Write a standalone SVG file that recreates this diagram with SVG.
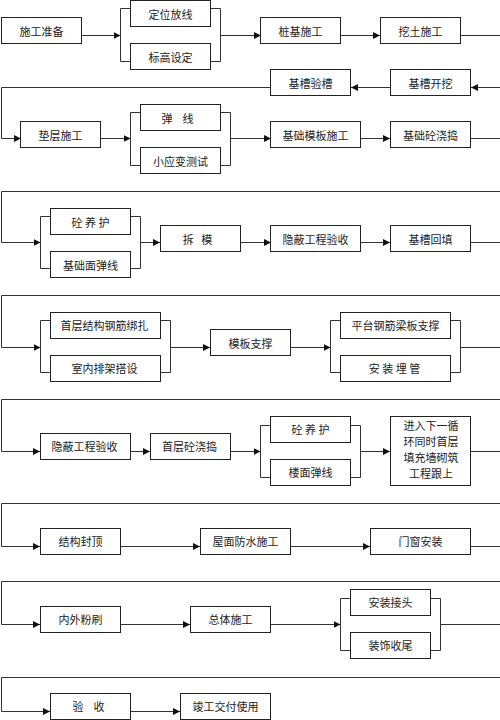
<svg xmlns="http://www.w3.org/2000/svg" width="500" height="720" viewBox="0 0 500 720">
<style>
.n rect{fill:#fff;stroke:#222;stroke-width:1}
.n text{font-family:"Noto Sans CJK SC","Liberation Sans",sans-serif;font-size:11px;fill:#222;text-anchor:middle;dominant-baseline:central}
.n .m{font-size:11.5px}
.c path{fill:none;stroke:#333;stroke-width:1}
.c .a{marker-end:url(#ah)}
</style>
<defs>
<marker id="ah" markerUnits="userSpaceOnUse" markerWidth="7" markerHeight="7" refX="7" refY="3.5" orient="auto">
<path d="M0,0 L7,3.5 L0,7 z" fill="#111"/>
</marker>
</defs>
<rect width="500" height="720" fill="#fff"/>
<g class="c" id="connectors">
<path class="a" d="M81,35.5 H120.5"/>
<path d="M130,8.5 H120.5 V61.5 H130"/>
<path d="M211,8.5 H220.5 V61.5 H211"/>
<path class="a" d="M220.5,35.5 H261"/>
<path class="a" d="M341,35.5 H380"/>
<path d="M461,35.5 H500"/>
<path class="a" d="M500,87.5 H471"/>
<path class="a" d="M390,87.5 H351"/>
<path class="a" d="M271,87.5 H1.5 V138.5 H21"/>
<path class="a" d="M101,138.5 H130.5"/>
<path d="M140,112.5 H130.5 V165.5 H140"/>
<path d="M220,112.5 H230.5 V165.5 H220"/>
<path class="a" d="M230.5,138.5 H271"/>
<path class="a" d="M361,138.5 H390"/>
<path d="M471,138.5 H500"/>
<path class="a" d="M500,191.5 H1.5 V242.5 H40.5"/>
<path d="M50,216.5 H40.5 V268.5 H50"/>
<path d="M130,216.5 H140.5 V268.5 H130"/>
<path class="a" d="M140.5,242.5 H160"/>
<path class="a" d="M241,242.5 H271"/>
<path class="a" d="M361,242.5 H390"/>
<path d="M471,242.5 H500"/>
<path class="a" d="M500,295.5 H1.5 V347.5 H40.5"/>
<path d="M50,320.5 H40.5 V372.5 H50"/>
<path d="M161,320.5 H170.5 V372.5 H161"/>
<path class="a" d="M170.5,347.5 H210"/>
<path class="a" d="M291,347.5 H330.5"/>
<path d="M340,320.5 H330.5 V372.5 H340"/>
<path d="M451,320.5 H460.5 V372.5 H451"/>
<path d="M460.5,347.5 H500"/>
<path class="a" d="M500,399.5 H1.5 V451.5 H40"/>
<path class="a" d="M130,451.5 H150"/>
<path class="a" d="M231,451.5 H260.5"/>
<path d="M271,425.5 H260.5 V477.5 H271"/>
<path d="M351,425.5 H360.5 V477.5 H351"/>
<path class="a" d="M360.5,451.5 H390"/>
<path d="M471,451.5 H500"/>
<path class="a" d="M500,503.5 H1.5 V546.5 H40"/>
<path class="a" d="M120,546.5 H200"/>
<path class="a" d="M291,546.5 H370"/>
<path d="M471,546.5 H500"/>
<path class="a" d="M500,581.5 H1.5 V624.5 H40"/>
<path class="a" d="M121,624.5 H190"/>
<path class="a" d="M271,624.5 H340.5"/>
<path d="M351,598.5 H340.5 V650.5 H351"/>
<path d="M431,598.5 H440.5 V650.5 H431"/>
<path d="M440.5,624.5 H500"/>
<path class="a" d="M500,677.5 H1.5 V711.5 H50"/>
<path class="a" d="M130,711.5 H180"/>
</g>
<g class="n" id="n1"><rect x="1.5" y="17.5" width="80" height="26"/><text x="41.5" y="30.5">施工准备</text></g>
<g class="n" id="n2"><rect x="130.5" y="0.5" width="80" height="26"/><text x="170.5" y="13.5">定位放线</text></g>
<g class="n" id="n3"><rect x="130.5" y="43.5" width="80" height="26"/><text x="170.5" y="56.5">标高设定</text></g>
<g class="n" id="n4"><rect x="260.5" y="17.5" width="80" height="26"/><text x="300.5" y="30.5">桩基施工</text></g>
<g class="n" id="n5"><rect x="380.5" y="17.5" width="80" height="26"/><text x="420.5" y="30.5">挖土施工</text></g>
<g class="n" id="n6"><rect x="390.5" y="69.5" width="80" height="26"/><text x="430.5" y="82.5">基槽开挖</text></g>
<g class="n" id="n7"><rect x="270.5" y="69.5" width="80" height="26"/><text x="310.5" y="82.5">基槽验槽</text></g>
<g class="n" id="n8"><rect x="20.5" y="121.5" width="80" height="26"/><text x="60.5" y="134.5">垫层施工</text></g>
<g class="n" id="n9"><rect x="140.5" y="104.5" width="80" height="26"/><text x="177.5" y="117.5" xml:space="preserve">弹    线</text></g>
<g class="n" id="n10"><rect x="140.5" y="147.5" width="80" height="26"/><text x="180.5" y="160.5">小应变测试</text></g>
<g class="n" id="n11"><rect x="270.5" y="121.5" width="90" height="26"/><text x="315.5" y="134.5">基础模板施工</text></g>
<g class="n" id="n12"><rect x="390.5" y="121.5" width="80" height="26"/><text x="430.5" y="134.5">基础砼浇捣</text></g>
<g class="n" id="n13"><rect x="50.5" y="208.5" width="80" height="26"/><text x="90.5" y="221.5" xml:space="preserve">砼 养 护</text></g>
<g class="n" id="n14"><rect x="50.5" y="251.5" width="80" height="26"/><text x="90.5" y="264.5">基础面弹线</text></g>
<g class="n" id="n15"><rect x="160.5" y="225.5" width="80" height="26"/><text x="197.5" y="238.5" xml:space="preserve">拆   模</text></g>
<g class="n" id="n16"><rect x="270.5" y="225.5" width="90" height="26"/><text x="315.5" y="238.5">隐蔽工程验收</text></g>
<g class="n" id="n17"><rect x="390.5" y="225.5" width="80" height="26"/><text x="430.5" y="238.5">基槽回填</text></g>
<g class="n" id="n18"><rect x="50.5" y="312.5" width="110" height="26"/><text x="104.5" y="324.5">首层结构钢筋绑扎</text></g>
<g class="n" id="n19"><rect x="50.5" y="355.5" width="110" height="26"/><text x="104.5" y="367.5">室内排架搭设</text></g>
<g class="n" id="n20"><rect x="210.5" y="329.5" width="80" height="26"/><text x="250.5" y="342.5">模板支撑</text></g>
<g class="n" id="n21"><rect x="340.5" y="312.5" width="110" height="26"/><text x="395.5" y="324.5">平台钢筋梁板支撑</text></g>
<g class="n" id="n22"><rect x="340.5" y="355.5" width="110" height="26"/><text x="394.5" y="367.5" xml:space="preserve">安 装 埋 管</text></g>
<g class="n" id="n23"><rect x="40.5" y="433.5" width="90" height="26"/><text x="84.5" y="445.5">隐蔽工程验收</text></g>
<g class="n" id="n24"><rect x="150.5" y="433.5" width="80" height="26"/><text x="189.5" y="445.5">首层砼浇捣</text></g>
<g class="n" id="n25"><rect x="270.5" y="416.5" width="80" height="26"/><text x="310.5" y="428.5" xml:space="preserve">砼 养 护</text></g>
<g class="n" id="n26"><rect x="270.5" y="459.5" width="80" height="26"/><text x="310.5" y="471.5">楼面弹线</text></g>
<g class="n" id="n27"><rect x="390.5" y="416.5" width="80" height="69"/><text x="431" y="425">进入下一循</text><text x="431" y="441">环同时首层</text><text x="431" y="457">填充墙砌筑</text><text x="431" y="473">工程跟上</text></g>
<g class="n" id="n28"><rect x="40.5" y="528.5" width="80" height="26"/><text x="80.5" y="540.5">结构封顶</text></g>
<g class="n" id="n29"><rect x="200.5" y="528.5" width="90" height="26"/><text x="245.5" y="540.5">屋面防水施工</text></g>
<g class="n" id="n30"><rect x="370.5" y="528.5" width="100" height="26"/><text x="420.5" y="540.5">门窗安装</text></g>
<g class="n" id="n31"><rect x="40.5" y="606.5" width="80" height="26"/><text x="80.5" y="619">内外粉刷</text></g>
<g class="n" id="n32"><rect x="190.5" y="606.5" width="80" height="26"/><text x="230.5" y="619">总体施工</text></g>
<g class="n" id="n33"><rect x="350.5" y="589.5" width="80" height="26"/><text x="390.5" y="601.5">安装接头</text></g>
<g class="n" id="n34"><rect x="350.5" y="632.5" width="80" height="26"/><text x="390.5" y="644.5">装饰收尾</text></g>
<g class="n" id="n35"><rect x="50.5" y="693.5" width="80" height="26"/><text x="88.5" y="705.5" xml:space="preserve">验    收</text></g>
<g class="n" id="n36"><rect x="180.5" y="693.5" width="90" height="26"/><text x="225.5" y="705.5">竣工交付使用</text></g>
</svg>
